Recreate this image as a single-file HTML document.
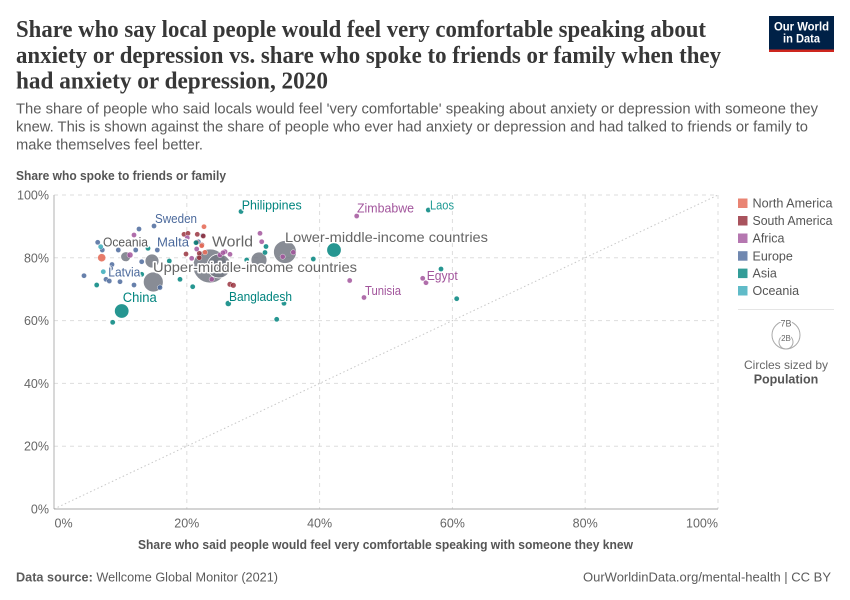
<!DOCTYPE html>
<html>
<head>
<meta charset="utf-8">
<style>
  html,body{margin:0;padding:0;background:#fff;}
  svg{display:block;}
  text{font-family:"Liberation Sans",sans-serif;}
</style>
</head>
<body>
<svg width="850" height="600" viewBox="0 0 850 600" xmlns="http://www.w3.org/2000/svg">
  <rect width="850" height="600" fill="#fff"/>

  <!-- Title -->
  <g font-family="Liberation Serif, serif" font-weight="bold" font-size="24" fill="#373737">
    <text x="16" y="37" textLength="690" lengthAdjust="spacingAndGlyphs" style="font-family:'Liberation Serif',serif">Share who say local people would feel very comfortable speaking about</text>
    <text x="16" y="63" textLength="705" lengthAdjust="spacingAndGlyphs" style="font-family:'Liberation Serif',serif">anxiety or depression vs. share who spoke to friends or family when they</text>
    <text x="16" y="88.5" textLength="312" lengthAdjust="spacingAndGlyphs" style="font-family:'Liberation Serif',serif">had anxiety or depression, 2020</text>
  </g>

  <!-- Subtitle -->
  <g font-size="14.5" fill="#5b5b5b">
    <text x="16" y="113.5" textLength="802" lengthAdjust="spacingAndGlyphs">The share of people who said locals would feel 'very comfortable' speaking about anxiety or depression with someone they</text>
    <text x="16" y="131.5" textLength="792" lengthAdjust="spacingAndGlyphs">knew. This is shown against the share of people who ever had anxiety or depression and had talked to friends or family to</text>
    <text x="16" y="149.5" textLength="187" lengthAdjust="spacingAndGlyphs">make themselves feel better.</text>
  </g>

  <!-- Logo -->
  <rect x="769" y="16" width="65" height="36" fill="#002147"/>
  <rect x="769" y="49.5" width="65" height="2.5" fill="#ce261e"/>
  <text x="801.5" y="30.5" font-size="11.5" font-weight="bold" fill="#fff" text-anchor="middle" textLength="55" lengthAdjust="spacingAndGlyphs">Our World</text>
  <text x="801.5" y="42.5" font-size="11.5" font-weight="bold" fill="#fff" text-anchor="middle" textLength="37" lengthAdjust="spacingAndGlyphs">in Data</text>

  <!-- Y axis title -->
  <text x="16" y="180" font-size="12.5" font-weight="bold" fill="#555" textLength="210" lengthAdjust="spacingAndGlyphs">Share who spoke to friends or family</text>

  <!-- Grid -->
  <g stroke="#dddddd" stroke-width="1" stroke-dasharray="4,4" fill="none">
    <line x1="54" y1="195" x2="718" y2="195"/>
    <line x1="54" y1="257.8" x2="718" y2="257.8"/>
    <line x1="54" y1="320.6" x2="718" y2="320.6"/>
    <line x1="54" y1="383.4" x2="718" y2="383.4"/>
    <line x1="54" y1="446.2" x2="718" y2="446.2"/>
    <line x1="186.8" y1="195" x2="186.8" y2="509"/>
    <line x1="319.6" y1="195" x2="319.6" y2="509"/>
    <line x1="452.4" y1="195" x2="452.4" y2="509"/>
    <line x1="585.2" y1="195" x2="585.2" y2="509"/>
    <line x1="718" y1="195" x2="718" y2="509"/>
  </g>
  <!-- Diagonal -->
  <line x1="54" y1="509" x2="718" y2="195" stroke="#c8c8c8" stroke-width="1" stroke-dasharray="1.5,2.5"/>
  <!-- Axes -->
  <line x1="54" y1="195" x2="54" y2="509" stroke="#bdbdbd" stroke-width="1.2"/>
  <line x1="54" y1="509" x2="718" y2="509" stroke="#a8a8a8" stroke-width="1"/>

  <!-- Y tick labels -->
  <g font-size="12.5" fill="#666" text-anchor="end">
    <text x="49" y="199.5">100%</text>
    <text x="49" y="262.3">80%</text>
    <text x="49" y="325.1">60%</text>
    <text x="49" y="387.9">40%</text>
    <text x="49" y="450.7">20%</text>
    <text x="49" y="513.5">0%</text>
  </g>
  <!-- X tick labels -->
  <g font-size="12.5" fill="#666">
    <text x="54.5" y="527.5">0%</text>
    <text x="186.8" y="527.5" text-anchor="middle">20%</text>
    <text x="319.6" y="527.5" text-anchor="middle">40%</text>
    <text x="452.4" y="527.5" text-anchor="middle">60%</text>
    <text x="585.2" y="527.5" text-anchor="middle">80%</text>
    <text x="718" y="527.5" text-anchor="end">100%</text>
  </g>
  <text x="138" y="549" font-size="12.5" font-weight="bold" fill="#555" textLength="495" lengthAdjust="spacingAndGlyphs">Share who said people would feel very comfortable speaking with someone they knew</text>

  <!-- Aggregate circles -->
  <g fill="#737883" fill-opacity="0.85" stroke="#fff" stroke-width="0.8">
    <circle cx="210" cy="266" r="17"/>
    <circle cx="219" cy="266" r="12"/>
    <circle cx="153.3" cy="282" r="10"/>
    <circle cx="152" cy="261" r="7"/>
    <circle cx="125.7" cy="256.7" r="5"/>
    <circle cx="259" cy="260" r="8"/>
    <circle cx="285" cy="252" r="11.5"/>
  </g>

  <!-- Europe -->
  <g fill="#4c6a9c" fill-opacity="0.85" stroke="#fff" stroke-width="0.4">
    <circle cx="139" cy="229" r="2.6"/>
    <circle cx="154" cy="226" r="2.6"/>
    <circle cx="97.7" cy="242.3" r="2.6"/>
    <circle cx="102.3" cy="250" r="2.6"/>
    <circle cx="118.3" cy="250" r="2.6"/>
    <circle cx="141.7" cy="261.7" r="2.6"/>
    <circle cx="112" cy="264.5" r="2.6"/>
    <circle cx="84" cy="275.7" r="2.6"/>
    <circle cx="110.7" cy="268.3" r="2.6"/>
    <circle cx="106" cy="279.3" r="2.6"/>
    <circle cx="109.3" cy="281" r="2.6"/>
    <circle cx="120" cy="281.7" r="2.6"/>
    <circle cx="134" cy="285" r="2.6"/>
    <circle cx="160" cy="287.5" r="2.6"/>
    <circle cx="135.7" cy="250" r="2.6"/>
    <circle cx="157.3" cy="250" r="2.6"/>
    <circle cx="198.3" cy="241.7" r="2.6"/>
    <circle cx="202.7" cy="235.7" r="2.6"/>
    <circle cx="185" cy="242.3" r="2.6"/>
  </g>

  <!-- Oceania -->
  <g fill="#38aaba" fill-opacity="0.85" stroke="#fff" stroke-width="0.4">
    <circle cx="100.7" cy="246.7" r="2.6"/>
    <circle cx="103.3" cy="271.7" r="2.6"/>
  </g>

  <!-- South America -->
  <g fill="#932834" fill-opacity="0.8" stroke="#fff" stroke-width="0.4">
    <circle cx="184" cy="234.3" r="2.6"/>
    <circle cx="188" cy="233.3" r="2.6"/>
    <circle cx="197.3" cy="234.3" r="2.6"/>
    <circle cx="203.3" cy="236" r="2.6"/>
    <circle cx="202" cy="245" r="2.6"/>
    <circle cx="196.7" cy="242.3" r="2.6"/>
    <circle cx="186" cy="254" r="2.6"/>
    <circle cx="199.3" cy="253.3" r="2.6"/>
    <circle cx="199.3" cy="257.7" r="2.6"/>
    <circle cx="230" cy="284.3" r="2.8"/>
    <circle cx="233.3" cy="285.3" r="2.8"/>
  </g>

  <!-- North America -->
  <g fill="#e56e5a" fill-opacity="0.9" stroke="#fff" stroke-width="0.4">
    <circle cx="101.7" cy="257.7" r="4"/>
    <circle cx="204" cy="226.7" r="2.6"/>
    <circle cx="201.7" cy="245.7" r="2.6"/>
    <circle cx="205" cy="252.3" r="2.6"/>
  </g>

  <!-- Africa -->
  <g fill="#a2559c" fill-opacity="0.85" stroke="#fff" stroke-width="0.4">
    <circle cx="134" cy="235" r="2.6"/>
    <circle cx="130" cy="255" r="3"/>
    <circle cx="187.3" cy="237.7" r="2.6"/>
    <circle cx="196.7" cy="249" r="2.6"/>
    <circle cx="191.7" cy="258.3" r="2.6"/>
    <circle cx="225" cy="251.7" r="2.6"/>
    <circle cx="220" cy="255" r="2.6"/>
    <circle cx="230" cy="254.3" r="2.6"/>
    <circle cx="211.7" cy="279.3" r="2.6"/>
    <circle cx="223" cy="252.7" r="2.6"/>
    <circle cx="260" cy="233.3" r="2.6"/>
    <circle cx="261.7" cy="241.7" r="2.6"/>
    <circle cx="293.3" cy="252.3" r="2.6"/>
    <circle cx="282.7" cy="256.7" r="2.6"/>
    <circle cx="349.7" cy="280.5" r="2.6"/>
    <circle cx="356.7" cy="216" r="2.6"/>
    <circle cx="364" cy="297.5" r="2.6"/>
    <circle cx="422.7" cy="278.3" r="2.6"/>
    <circle cx="426" cy="282.7" r="2.6"/>
  </g>

  <!-- Asia -->
  <g fill="#00847e" fill-opacity="0.85" stroke="#fff" stroke-width="0.4">
    <circle cx="148" cy="248.3" r="2.6"/>
    <circle cx="141.7" cy="274.3" r="2.6"/>
    <circle cx="96.7" cy="285" r="2.6"/>
    <circle cx="112.7" cy="322.3" r="2.6"/>
    <circle cx="169.3" cy="261" r="2.6"/>
    <circle cx="180" cy="279.3" r="2.6"/>
    <circle cx="192.7" cy="286.7" r="2.6"/>
    <circle cx="228.3" cy="303.5" r="3"/>
    <circle cx="241" cy="211.5" r="2.6"/>
    <circle cx="266" cy="246.5" r="2.6"/>
    <circle cx="265" cy="252.5" r="2.6"/>
    <circle cx="246.7" cy="260" r="2.6"/>
    <circle cx="313.3" cy="259" r="2.6"/>
    <circle cx="284" cy="303.3" r="2.6"/>
    <circle cx="276.7" cy="319.3" r="2.6"/>
    <circle cx="428.3" cy="210" r="2.6"/>
    <circle cx="441" cy="269" r="2.6"/>
    <circle cx="456.7" cy="298.7" r="2.6"/>
    <circle cx="196" cy="242.7" r="2.6"/>
    <circle cx="121.7" cy="311" r="7.3" stroke-width="0.8"/>
    <circle cx="334" cy="250" r="7.3" stroke-width="0.8"/>
  </g>

  <!-- Labels -->
  <g font-size="12.5" stroke="#fff" stroke-width="2.5" paint-order="stroke" stroke-linejoin="round">
    <text x="241.7" y="209.5" fill="#00847e" textLength="60" lengthAdjust="spacingAndGlyphs">Philippines</text>
    <text x="357" y="212.5" fill="#a2559c" textLength="57" lengthAdjust="spacingAndGlyphs">Zimbabwe</text>
    <text x="430" y="209.5" fill="#1f9a94" textLength="24" lengthAdjust="spacingAndGlyphs">Laos</text>
    <text x="155" y="223" fill="#4c6a9c" textLength="42" lengthAdjust="spacingAndGlyphs">Sweden</text>
    <text x="103" y="246.5" fill="#5b5b5b" textLength="45" lengthAdjust="spacingAndGlyphs">Oceania</text>
    <text x="157" y="246.5" fill="#4c6a9c" textLength="32" lengthAdjust="spacingAndGlyphs">Malta</text>
    <text x="108.3" y="276.5" fill="#4c6a9c" textLength="32" lengthAdjust="spacingAndGlyphs">Latvia</text>
    <text x="229" y="301" fill="#00847e" textLength="63" lengthAdjust="spacingAndGlyphs">Bangladesh</text>
    <text x="365" y="295" fill="#a2559c" textLength="36" lengthAdjust="spacingAndGlyphs">Tunisia</text>
    <text x="426.7" y="279.8" fill="#a2559c" textLength="31" lengthAdjust="spacingAndGlyphs">Egypt</text>
    <text x="122.7" y="301.8" font-size="13.5" fill="#00847e" textLength="34" lengthAdjust="spacingAndGlyphs">China</text>
    <text x="212" y="246.5" font-size="15" fill="#666" textLength="41" lengthAdjust="spacingAndGlyphs">World</text>
    <text x="285" y="242" font-size="14" fill="#666" textLength="203" lengthAdjust="spacingAndGlyphs">Lower-middle-income countries</text>
    <text x="153" y="272" font-size="14" fill="#666" stroke-width="3" textLength="204" lengthAdjust="spacingAndGlyphs">Upper-middle-income countries</text>
  </g>

  <!-- Legend -->
  <g>
    <rect x="738" y="198.5" width="9.5" height="9.5" fill="#e56e5a" fill-opacity="0.85"/>
    <rect x="738" y="216" width="9.5" height="9.5" fill="#932834" fill-opacity="0.8"/>
    <rect x="738" y="233.5" width="9.5" height="9.5" fill="#a2559c" fill-opacity="0.8"/>
    <rect x="738" y="251.2" width="9.5" height="9.5" fill="#4c6a9c" fill-opacity="0.8"/>
    <rect x="738" y="268.6" width="9.5" height="9.5" fill="#00847e" fill-opacity="0.8"/>
    <rect x="738" y="286" width="9.5" height="9.5" fill="#38aaba" fill-opacity="0.8"/>
  </g>
  <g font-size="12.5" fill="#555">
    <text x="752.5" y="207.7" textLength="80" lengthAdjust="spacingAndGlyphs">North America</text>
    <text x="752.5" y="225.2" textLength="80" lengthAdjust="spacingAndGlyphs">South America</text>
    <text x="752.5" y="242.7">Africa</text>
    <text x="752.5" y="260.3">Europe</text>
    <text x="752.5" y="277.7">Asia</text>
    <text x="752.5" y="295.2">Oceania</text>
  </g>
  <line x1="738" y1="309.5" x2="834" y2="309.5" stroke="#e5e5e5" stroke-width="1"/>

  <!-- Size legend -->
  <circle cx="786" cy="335" r="14" fill="none" stroke="#aaa" stroke-width="1"/>
  <circle cx="786" cy="342" r="7" fill="none" stroke="#aaa" stroke-width="1"/>
  <text x="786" y="326.5" font-size="9" fill="#666" text-anchor="middle" stroke="#fff" stroke-width="2.5" paint-order="stroke">7B</text>
  <text x="786" y="341" font-size="8" fill="#666" text-anchor="middle" stroke="#fff" stroke-width="2" paint-order="stroke">2B</text>
  <text x="786" y="369" font-size="12" fill="#666" text-anchor="middle">Circles sized by</text>
  <text x="786" y="383.5" font-size="12.5" font-weight="bold" fill="#555" text-anchor="middle">Population</text>

  <!-- Footer -->
  <text x="16" y="581.5" font-size="13" fill="#5b5b5b" textLength="262" lengthAdjust="spacingAndGlyphs"><tspan font-weight="bold">Data source:</tspan> Wellcome Global Monitor (2021)</text>
  <text x="831" y="581.5" font-size="13" fill="#5b5b5b" text-anchor="end" textLength="248" lengthAdjust="spacingAndGlyphs">OurWorldinData.org/mental-health | CC BY</text>
</svg>
</body>
</html>
